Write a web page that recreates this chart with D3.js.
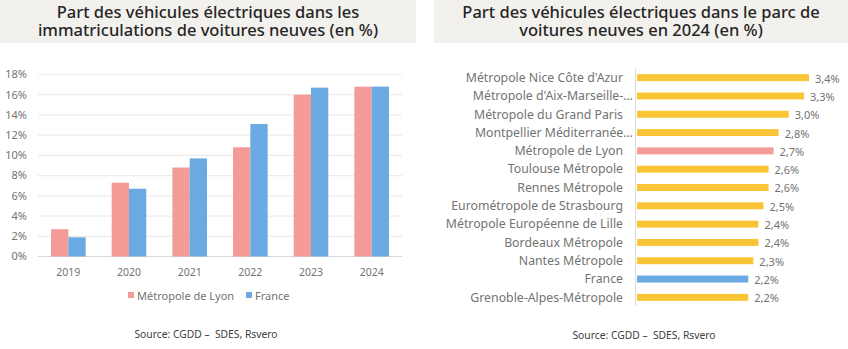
<!DOCTYPE html>
<html>
<head>
<meta charset="utf-8">
<script src="https://cdn.jsdelivr.net/npm/d3@7"></script>
<style>
    body { margin: 0; background: #fff; }
    svg { display: block; font-family: "Noto Sans", Lato, sans-serif; }
</style>
</head>
<body>
<svg id="chart" width="848" height="349"></svg>
<script>
// Left chart: share of EVs in new car registrations
const years = ["2019", "2020", "2021", "2022", "2023", "2024"];
const lyonShare = [2.7, 7.3, 8.8, 10.8, 16.0, 16.8];
const franceShare = [1.9, 6.7, 9.7, 13.1, 16.7, 16.8];
const yTicks = [0, 2, 4, 6, 8, 10, 12, 14, 16, 18];

// Right chart: share of EVs in the 2024 fleet
const areas = ["Métropole Nice Côte d'Azur", "Métropole d'Aix-Marseille-…", "Métropole du Grand Paris",
    "Montpellier Méditerranée…", "Métropole de Lyon", "Toulouse Métropole", "Rennes Métropole",
    "Eurométropole de Strasbourg", "Métropole Européenne de Lille", "Bordeaux Métropole",
    "Nantes Métropole", "France", "Grenoble-Alpes-Métropole"];
const fleetShare = [3.4, 3.3, 3.0, 2.8, 2.7, 2.6, 2.6, 2.5, 2.4, 2.4, 2.3, 2.2, 2.2];

const pink = "#f29b97", blue = "#6aa9e1", yellow = "#f9c536";
const textGray = "#737373";

let svg = d3.select("#chart");
let fmt = v => d3.format(".1f")(v).replace(".", ",") + "%";

// Title boxes (two-line titles as one text with tspans)
const titles = [
    {x: 0, w: 416, lines: ["Part des véhicules électriques dans les", "immatriculations de voitures neuves (en %)"]},
    {x: 434, w: 414, lines: ["Part des véhicules électriques dans le parc de", "voitures neuves en 2024 (en %)"]}
];
titles.forEach(t => {
    svg.append("rect")
        .attr("x", t.x).attr("y", 0)
        .attr("width", t.w).attr("height", 43)
        .attr("fill", "#f3f1ee");
    let title = svg.append("text")
        .attr("text-anchor", "middle")
        .attr("font-size", 16.5)
        .attr("font-weight", 500)
        .attr("fill", "#262626");
    t.lines.forEach((line, i) => {
        title.append("tspan")
            .attr("x", t.x + t.w / 2)
            .attr("y", 18 + i * 18)
            .text(line);
    });
});

// ---- Left: grouped bars ----
let xScale = d3.scaleBand()
    .domain(years)
    .range([38, 402])
    .paddingInner(0.43)
    .paddingOuter(0.215);

let xSub = d3.scaleBand()
    .domain(["lyon", "france"])
    .range([0, xScale.bandwidth()]);

let yScale = d3.scaleLinear()
    .domain([0, 18])
    .range([256.5, 74.5]);

let gLeft = svg.append("g");

gLeft.selectAll(".grid")
    .data(yTicks)
    .enter().append("line")
    .attr("x1", 38).attr("x2", 402)
    .attr("y1", d => yScale(d)).attr("y2", d => yScale(d))
    .attr("stroke", d => d === 0 ? "#d9d9d9" : "#ececec")
    .attr("stroke-width", 1.2);

gLeft.selectAll(".ylab")
    .data(yTicks)
    .enter().append("text")
    .attr("x", 27)
    .attr("y", d => yScale(d))
    .attr("dy", "0.35em")
    .attr("text-anchor", "end")
    .attr("font-size", 11)
    .attr("fill", textGray)
    .text(d => d + "%");

let rows = years.map((y, i) => ({year: y, lyon: lyonShare[i], france: franceShare[i]}));

let groups = gLeft.selectAll(".year")
    .data(rows)
    .enter().append("g")
    .attr("transform", d => "translate(" + xScale(d.year) + ",0)");

groups.selectAll("rect")
    .data(d => [{key: "lyon", v: d.lyon}, {key: "france", v: d.france}])
    .enter().append("rect")
    .attr("x", d => xSub(d.key))
    .attr("y", d => yScale(d.v))
    .attr("width", xSub.bandwidth())
    .attr("height", d => yScale(0) - yScale(d.v))
    .attr("fill", d => d.key === "lyon" ? pink : blue);

gLeft.selectAll(".xlab")
    .data(years)
    .enter().append("text")
    .attr("x", d => xScale(d) + xScale.bandwidth() / 2)
    .attr("y", 276)
    .attr("text-anchor", "middle")
    .attr("font-size", 10.5)
    .attr("fill", textGray)
    .text(d => d);

// legend
const legend = [{label: "Métropole de Lyon", color: pink, x: 128}, {label: "France", color: blue, x: 246}];
legend.forEach(l => {
    gLeft.append("rect")
        .attr("x", l.x).attr("y", 292)
        .attr("width", 6).attr("height", 6)
        .attr("fill", l.color);
    gLeft.append("text")
        .attr("x", l.x + 9).attr("y", 299.5)
        .attr("font-size", 11)
        .attr("fill", textGray)
        .text(l.label);
});

// ---- Right: horizontal bars ----
let yBand = d3.scaleBand()
    .domain(areas)
    .range([68.5, 306.5])
    .paddingInner(0.62)
    .paddingOuter(0.31);

let xLin = d3.scaleLinear()
    .domain([0, 3.4])
    .range([637, 809]);

let gRight = svg.append("g");

gRight.append("line")
    .attr("x1", 635.5).attr("x2", 635.5)
    .attr("y1", 69).attr("y2", 306)
    .attr("stroke", "#d9d9d9");

gRight.selectAll(".hbar")
    .data(areas)
    .enter().append("rect")
    .attr("x", xLin(0))
    .attr("y", d => yBand(d))
    .attr("width", (d, i) => xLin(fleetShare[i]) - xLin(0))
    .attr("height", yBand.bandwidth())
    .attr("fill", d => d === "Métropole de Lyon" ? pink : d === "France" ? blue : yellow);

gRight.selectAll(".cat")
    .data(areas)
    .enter().append("text")
    .attr("x", d => d.endsWith("…") ? 633 : 623)
    .attr("y", d => yBand(d) + yBand.bandwidth() / 2)
    .attr("dy", "0.35em")
    .attr("text-anchor", "end")
    .attr("font-size", 12.3)
    .attr("fill", textGray)
    .text(d => d);

gRight.selectAll(".val")
    .data(areas)
    .enter().append("text")
    .attr("x", (d, i) => xLin(fleetShare[i]) + 6)
    .attr("y", d => yBand(d) + yBand.bandwidth() / 2)
    .attr("dy", "0.45em")
    .attr("font-size", 11)
    .attr("fill", textGray)
    .text((d, i) => fmt(fleetShare[i]));

// sources
[{x: 206, y: 338}, {x: 644, y: 339}].forEach(s => {
    svg.append("text")
        .attr("x", s.x).attr("y", s.y)
        .attr("text-anchor", "middle")
        .attr("font-size", 10.3)
        .attr("fill", "#404040")
        .attr("xml:space", "preserve")
        .text("Source: CGDD –  SDES, Rsvero");
});
</script>
</body>
</html>
